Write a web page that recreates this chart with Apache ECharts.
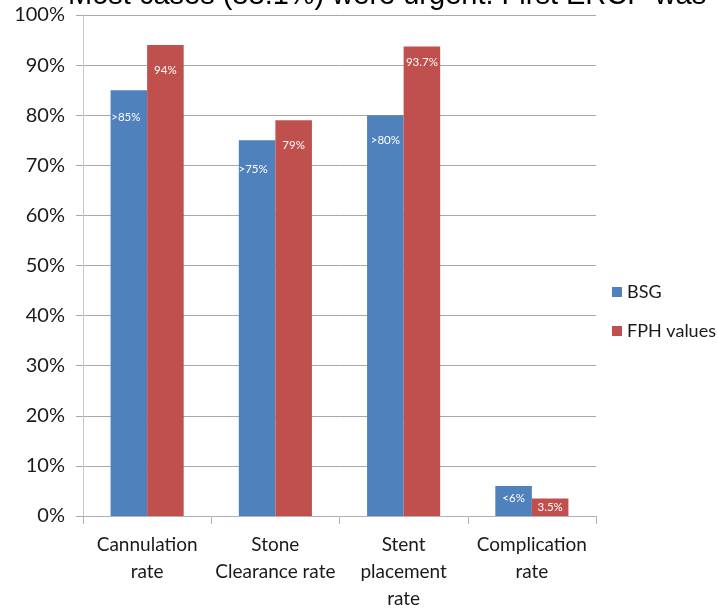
<!DOCTYPE html>
<html><head><meta charset="utf-8">
<script src="https://cdn.jsdelivr.net/npm/echarts@6/dist/echarts.min.js"></script>
<style>html,body{margin:0;padding:0;background:#fff}#c{width:717px;height:612px}</style>
</head><body><div id="c"></div>
<script>
const titleText = 'Most cases (88.1%) were urgent. First ERCP was';
const categories = ['Cannulation\nrate', 'Stone\nClearance rate', 'Stent\nplacement\nrate', 'Complication\nrate'];
const seriesNames = ['BSG', 'FPH values'];
const bsgValues = [85, 75, 80, 6];
const fphValues = [94, 79, 93.7, 3.5];
const bsgLabels = ['>85%', '>75%', '>80%', '<6%'];
const fphLabels = ['94%', '79%', '93.7%', '3.5%'];

const FONT = 'Lato';
function items(values, labels, overrides) {
  return values.map((v, i) => ({ value: v, label: Object.assign({ formatter: labels[i] }, overrides[i] || {}) }));
}
const chart = echarts.init(document.getElementById('c'));
chart.setOption({
  animation: false,
  backgroundColor: '#fff',
  title: {
    text: titleText, left: 63, top: -24, padding: 5,
    textStyle: { fontFamily: 'Liberation Sans', fontSize: 29, fontWeight: 'normal', color: '#000' }
  },
  legend: {
    orient: 'vertical', left: 612, top: 283, padding: 0, itemWidth: 10, itemHeight: 10, itemGap: 21,
    icon: 'rect', data: seriesNames,
    textStyle: { fontFamily: FONT, fontSize: 18, color: '#1a1a1a' }
  },
  grid: { left: 83, right: 121, top: 15, bottom: 92, containLabel: false },
  xAxis: {
    type: 'category', data: categories,
    axisLine: { lineStyle: { color: '#b0b0b0' } },
    axisTick: { show: true, length: 8, lineStyle: { color: '#b0b0b0' } },
    axisLabel: { fontFamily: FONT, fontSize: 19, color: '#1a1a1a', lineHeight: 27, margin: 15, interval: 0 }
  },
  yAxis: {
    type: 'value', min: 0, max: 100, interval: 10,
    axisLine: { show: true, lineStyle: { color: '#c8c8c8' } },
    axisTick: { show: true, length: 7, lineStyle: { color: '#a8a8a8' } },
    splitLine: { lineStyle: { color: '#a8a8a8' } },
    axisLabel: { formatter: '{value}%', fontFamily: FONT, fontSize: 20, color: '#1a1a1a', margin: 18 }
  },
  series: [
    {
      name: seriesNames[0], type: 'bar', barGap: '0%', barCategoryGap: '43%',
      itemStyle: { color: '#4f81bd' },
      label: { show: true, position: 'insideTop', distance: 19, color: '#fff', fontFamily: FONT, fontSize: 11.5 },
      data: items(bsgValues, bsgLabels, [{ offset: [-3, 2] }, { offset: [-4, 4] }, {}, { position: 'inside', offset: [0, -3] }])
    },
    {
      name: seriesNames[1], type: 'bar',
      itemStyle: { color: '#c0504d' },
      label: { show: true, position: 'insideTop', distance: 19, color: '#fff', fontFamily: FONT, fontSize: 11.5 },
      data: items(fphValues, fphLabels, [{}, {}, { distance: 10 }, { position: 'inside' }])
    }
  ]
});
</script></body></html>
